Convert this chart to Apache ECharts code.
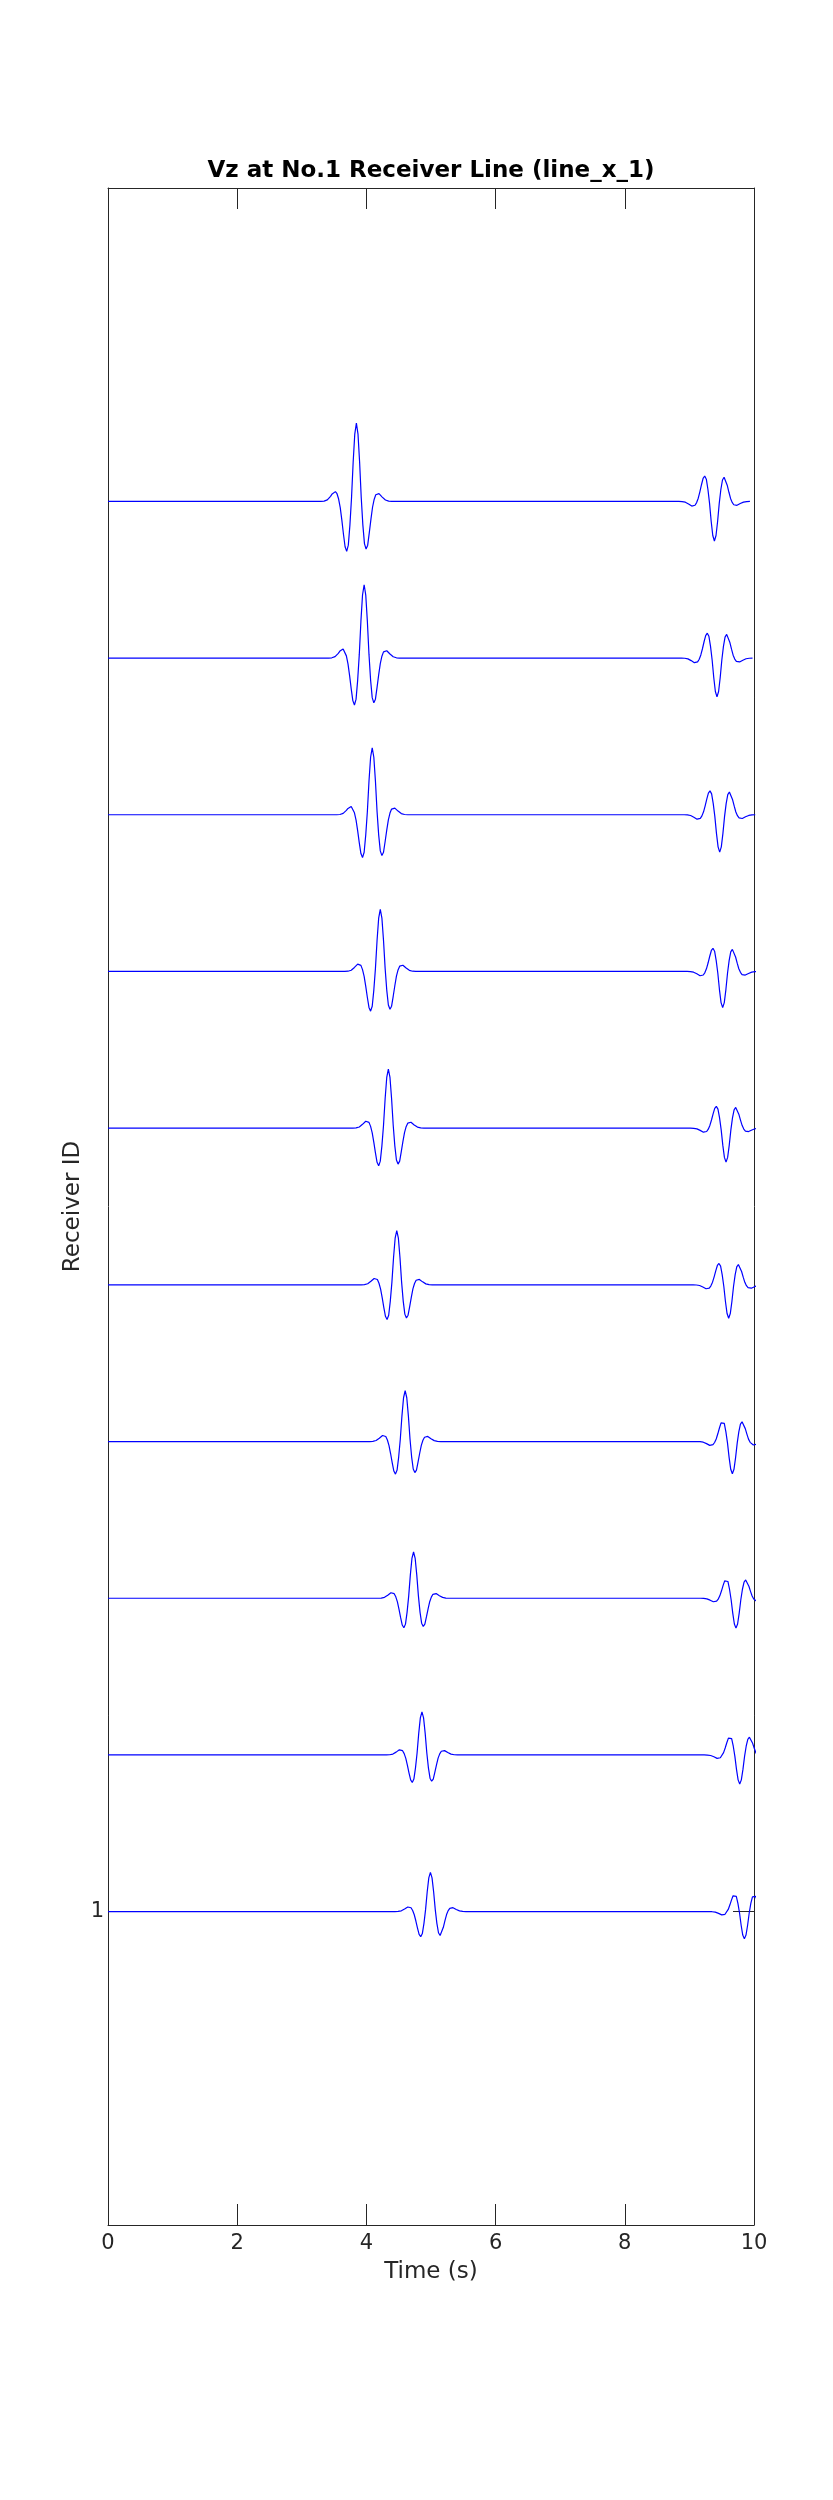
<!DOCTYPE html>
<html>
<head>
<meta charset="utf-8">
<script src="https://cdn.jsdelivr.net/npm/echarts@6/dist/echarts.min.js"></script>
<style>
html,body{margin:0;padding:0;background:#fff;}
#chart{width:833px;height:2500px;}
</style>
</head>
<body>
<div id="chart"></div>
<script>
// Receiver IDs (trace k plotted around y = k)
var receiverIds = [1, 2, 3, 4, 5, 6, 7, 8, 9, 10];
// First (direct) arrival: time of main peak (s) and peak amplitude (axis units), per receiver 1..10
var arrival1Time = [4.991, 4.860, 4.730, 4.600, 4.470, 4.340, 4.215, 4.090, 3.965, 3.845];
var arrival1Amp  = [0.250, 0.275, 0.295, 0.325, 0.346, 0.376, 0.396, 0.427, 0.468, 0.499];
// Second (reversed-polarity) arrival: time of main trough (s) and trough depth (axis units)
var arrival2Time = [9.851, 9.779, 9.721, 9.665, 9.608, 9.567, 9.515, 9.469, 9.427, 9.387];
var arrival2Amp  = [0.174, 0.185, 0.191, 0.206, 0.213, 0.217, 0.231, 0.238, 0.248, 0.253];
// Wavelet shape: time offsets (s) from the main extremum and normalised amplitude
var waveletOffset = [-0.550,-0.525,-0.500,-0.475,-0.450,-0.425,-0.400,-0.375,-0.350,-0.325,-0.300,-0.275,-0.250,-0.225,-0.200,-0.175,-0.150,-0.125,-0.100,-0.075,-0.050,-0.025,0.000,0.025,0.050,0.075,0.100,0.125,0.150,0.175,0.200,0.225,0.250,0.275,0.300,0.325,0.350,0.375,0.400,0.425,0.450,0.475,0.500,0.525,0.550];
var waveletValue  = [0.000,0.002,0.004,0.008,0.020,0.040,0.065,0.095,0.118,0.125,0.098,0.030,-0.080,-0.240,-0.420,-0.580,-0.640,-0.560,-0.300,0.050,0.500,0.860,1.000,0.860,0.500,0.050,-0.300,-0.540,-0.610,-0.560,-0.400,-0.230,-0.075,0.025,0.085,0.108,0.100,0.080,0.055,0.035,0.018,0.008,0.004,0.001,0.000];
// Axis ticks
var timeTicks = [0, 2, 4, 6, 8, 10];
var receiverTickValues = [1];

function buildTrace(i) {
  var k = receiverIds[i];
  var pts = [[0, k]];
  for (var j = 0; j < waveletOffset.length; j++) {
    pts.push([arrival1Time[i] + waveletOffset[j], k + arrival1Amp[i] * waveletValue[j]]);
  }
  for (var j2 = 0; j2 < waveletOffset.length; j2++) {
    pts.push([arrival2Time[i] + waveletOffset[j2], k - arrival2Amp[i] * waveletValue[j2]]);
  }
  return pts;
}

var series = receiverIds.map(function (id, i) {
  return {
    type: 'line',
    name: 'R' + id,
    data: buildTrace(i),
    showSymbol: false,
    symbol: 'none',
    clip: true,
    lineStyle: { color: '#0000ff', width: 1.2 },
    itemStyle: { color: '#0000ff' },
    animation: false,
    silent: true
  };
});

var axisColor = '#262626';
var font = 'DejaVu Sans';

var chart = echarts.init(document.getElementById('chart'), null, { renderer: 'canvas' });
chart.setOption({
  backgroundColor: '#ffffff',
  animation: false,
  title: {
    text: 'Vz at No.1 Receiver Line (line_x_1)',
    left: 426,
    top: 155,
    textAlign: 'center',
    textStyle: { fontFamily: font, fontSize: 23, fontWeight: 'bold', color: '#000000' }
  },
  grid: { left: 108, right: 79, top: 188, bottom: 275, containLabel: false },
  xAxis: [{
    type: 'value',
    position: 'bottom',
    min: timeTicks[0],
    max: timeTicks[timeTicks.length - 1],
    interval: 2,
    name: 'Time (s)',
    nameLocation: 'middle',
    nameGap: 36,
    nameMoveOverlap: false,
    nameTextStyle: { fontFamily: font, fontSize: 23, color: axisColor },
    axisLine: { show: true, onZero: false, lineStyle: { color: axisColor, width: 1 } },
    axisTick: { show: true, inside: true, length: 21, lineStyle: { color: axisColor, width: 1 } },
    axisLabel: { show: true, margin: 8, fontFamily: font, fontSize: 21, color: axisColor },
    splitLine: { show: false }
  }, {
    type: 'value',
    position: 'top',
    min: timeTicks[0],
    max: timeTicks[timeTicks.length - 1],
    interval: 2,
    axisLine: { show: true, onZero: false, lineStyle: { color: axisColor, width: 1 } },
    axisTick: { show: true, inside: true, length: 21, lineStyle: { color: axisColor, width: 1 } },
    axisLabel: { show: false },
    splitLine: { show: false }
  }],
  yAxis: [{
    type: 'value',
    position: 'left',
    min: -1,
    max: 12,
    interval: 1,
    name: 'Receiver ID',
    nameLocation: 'middle',
    nameGap: 23,
    nameMoveOverlap: false,
    nameTextStyle: { fontFamily: font, fontSize: 23, color: axisColor },
    axisLine: { show: true, onZero: false, lineStyle: { color: axisColor, width: 1 } },
    axisTick: { show: true, inside: true, length: 21, customValues: receiverTickValues, lineStyle: { color: axisColor, width: 1 } },
    axisLabel: { show: true, margin: 4, fontFamily: font, fontSize: 21, color: axisColor, customValues: receiverTickValues },
    splitLine: { show: false }
  }, {
    type: 'value',
    position: 'right',
    min: -1,
    max: 12,
    interval: 1,
    axisLine: { show: true, onZero: false, lineStyle: { color: axisColor, width: 1 } },
    axisTick: { show: true, inside: true, length: 21, customValues: receiverTickValues, lineStyle: { color: axisColor, width: 1 } },
    axisLabel: { show: false },
    splitLine: { show: false }
  }],
  series: series
});
</script>
</body>
</html>
